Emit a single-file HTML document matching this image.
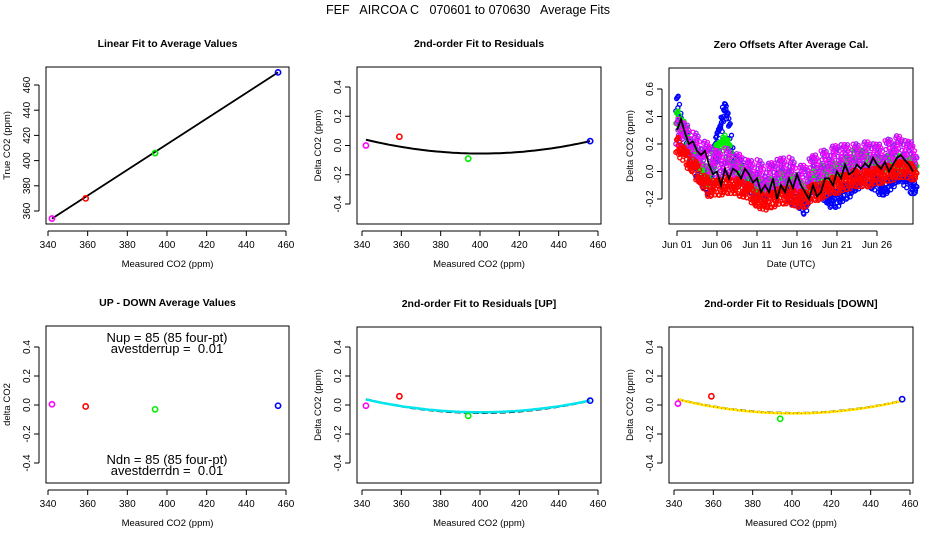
<!DOCTYPE html>
<html><head><meta charset="utf-8"><style>
html,body{margin:0;padding:0;background:#fff;}
svg{display:block;font-family:"Liberation Sans",sans-serif;}
text{white-space:pre;}
</style></head><body>
<svg id="chart" width="936" height="540" viewBox="0 0 936 540" xmlns="http://www.w3.org/2000/svg">
<text x="468" y="14" font-size="12.5" text-anchor="middle" xml:space="preserve">FEF   AIRCOA C   070601 to 070630   Average Fits</text>
</svg>
<script>
// ---- data ----
const calX = [342, 359, 394, 456];
const calTrue = [354, 370, 406, 470];
const calColors = ['#ff00ff', '#ff0000', '#00ee00', '#0000ff'];
const linFit = [1.0175, 6.0]; // slope, intercept
const resid = [0.0, 0.06, -0.09, 0.03];
const residUp = [-0.005, 0.06, -0.075, 0.03];
const residDn = [0.01, 0.06, -0.095, 0.04];
const upDown = [0.005, -0.01, -0.03, -0.005];
const quadFit = [2.768e-5, -3.2e-5, -0.055];
const quadFitUp = [2.6e-5, -1e-5, -0.05];
const quadFitDn = [2.8e-5, -3e-5, -0.058];
const xTicks = [340, 360, 380, 400, 420, 440, 460];
const resTicks = [-0.4, -0.2, 0.0, 0.2, 0.4];
const resTickLabels = ['-0.4', '-0.2', '0.0', '0.2', '0.4'];
const trueTicks = [360, 380, 400, 420, 440, 460];
const zeroTicks = [-0.2, 0.0, 0.2, 0.4, 0.6];
const zeroTickLabels = ['-0.2', '0.0', '0.2', '0.4', '0.6'];
const dateTicks = [1, 6, 11, 16, 21, 26];
const dateTickLabels = ['Jun 01', 'Jun 06', 'Jun 11', 'Jun 16', 'Jun 21', 'Jun 26'];
const meanLine = [0.3,0.38,0.28,0.2,0.22,0.15,0.12,0.15,0.05,-0.02,0.0,-0.1,0.02,-0.05,0.02,0.0,-0.05,0.02,-0.02,-0.08,-0.05,-0.15,-0.1,-0.15,-0.05,-0.2,-0.1,-0.15,-0.05,-0.12,-0.02,-0.1,-0.15,-0.2,-0.1,-0.18,-0.15,-0.05,-0.05,-0.1,0.0,-0.05,0.05,-0.02,0.0,0.05,0.02,0.06,0.03,0.1,0.05,0.02,0.07,0.0,0.05,0.1,0.12,0.08,0.05,0.0];
const purpleDaily = [0.3,0.25,0.2,0.15,0.1,0.05,0.08,0.05,0.02,-0.02,0.0,-0.05,-0.02,0.0,0.02,-0.05,-0.05,0.02,0.05,0.08,0.1,0.1,0.1,0.12,0.12,0.1,0.12,0.18,0.15,0.12];
const redDaily = [0.2,0.1,0.05,-0.05,-0.12,-0.12,-0.1,-0.1,-0.12,-0.15,-0.2,-0.22,-0.2,-0.18,-0.17,-0.2,-0.2,-0.15,-0.15,-0.1,-0.1,-0.08,-0.05,-0.05,-0.05,-0.03,-0.02,0.0,0.02,0.0];
const greenDaily = [0.4,0.3,0.15,0.05,-0.05,0.15,0.25,0.05,0.0,-0.05,-0.1,-0.1,-0.1,-0.05,-0.05,-0.1,-0.15,-0.05,0.0,0.0,0.02,0.05,0.1,0.15,0.05,0.05,0.05,0.1,0.05,0.05];
const blueDaily = [0.5,0.25,0.1,-0.05,-0.1,0.2,0.5,0.1,0.0,-0.1,-0.1,-0.15,-0.1,-0.05,-0.15,-0.2,-0.25,-0.1,-0.1,-0.2,-0.2,-0.15,-0.1,-0.05,-0.05,-0.1,-0.12,-0.05,0.0,-0.1];
const seriesSpread = [0.1, 0.06, 0.05, 0.06]; // purple, red, green, blue

// ---- helpers ----
const NS = 'http://www.w3.org/2000/svg';
const svg = document.getElementById('chart');
function mk(tag, attrs, parent) {
  const e = document.createElementNS(NS, tag);
  for (const k in attrs) e.setAttribute(k, attrs[k]);
  (parent || svg).appendChild(e);
  return e;
}
function lin(d0, d1, p0, p1) { return v => p0 + (v - d0) * (p1 - p0) / (d1 - d0); }

function panel(name, box, xs, ys, opts) {
  const g = mk('g', {});
  
  
  const t = mk('text', {x: (box[0] + box[2]) / 2, y: box[1] - 20, 'font-size': 10.5, 'font-weight': 'bold', 'text-anchor': 'middle'}, g);
  t.textContent = opts.title;
  
  
  const r = mk('rect', {x: box[0], y: box[1], width: box[2] - box[0], height: box[3] - box[1], fill: 'none', stroke: '#000', 'stroke-width': 1}, g);
  
  
  const xa = mk('g', {}, g);
  
  
  const ax = box[3] + 7;
  mk('line', {x1: xs(opts.xt[0]), x2: xs(opts.xt[opts.xt.length - 1]), y1: ax, y2: ax, stroke: '#000'}, xa);
  opts.xt.forEach((v, i) => {
    const x = xs(v);
    mk('line', {x1: x, x2: x, y1: ax, y2: ax + 5, stroke: '#000'}, xa);
    const tl = mk('text', {x: x, y: ax + 17, 'font-size': 10, 'text-anchor': 'middle'}, xa);
    tl.textContent = opts.xl[i];
  });
  const xt = mk('text', {x: (box[0] + box[2]) / 2, y: box[3] + 43, 'font-size': 9.5, 'text-anchor': 'middle'}, g);
  xt.textContent = opts.xlab;
  
  
  const ya = mk('g', {}, g);
  
  
  const ay = box[0] - 7;
  mk('line', {x1: ay, x2: ay, y1: ys(opts.yt[0]), y2: ys(opts.yt[opts.yt.length - 1]), stroke: '#000'}, ya);
  opts.yt.forEach((v, i) => {
    const y = ys(v);
    mk('line', {x1: ay - 5, x2: ay, y1: y, y2: y, stroke: '#000'}, ya);
    const tl = mk('text', {x: ay - 9, y: y, 'font-size': 10, 'text-anchor': 'middle', transform: `rotate(-90 ${ay - 9} ${y})`}, ya);
    tl.textContent = opts.yl[i];
  });
  const yx = box[0] - 36, yy = (box[1] + box[3]) / 2;
  const ytl = mk('text', {x: yx, y: yy, 'font-size': 9.5, 'text-anchor': 'middle', transform: `rotate(-90 ${yx} ${yy})`}, g);
  ytl.textContent = opts.ylab;
  
  
  return g;
}
function pts(g, xs, ys, X, Y, cols) {
  X.forEach((x, i) => {
    const c = mk('circle', {cx: xs(x), cy: ys(Y[i]), r: 2.6, fill: 'none', stroke: cols[i], 'stroke-width': 1.6}, g);
    
    
  });
}
function quad(g, xs, ys, co, attrs) {
  let d = '';
  for (let x = 342; x <= 456; x += 2) {
    const u = x - 400;
    const y = co[0] * u * u + co[1] * u + co[2];
    d += (d ? 'L' : 'M') + xs(x).toFixed(1) + ',' + ys(y).toFixed(1);
  }
  const p = mk('path', Object.assign({d: d, fill: 'none'}, attrs), g);
  
  
}
const xl = xTicks.map(String);

// Panel 1
{
  const box = [46, 67, 289, 224];
  const xs = lin(340, 460, 48, 286), ys = lin(360, 460, 211, 85);
  const g = panel('linear-fit-panel', box, xs, ys, {title: 'Linear Fit to Average Values', xt: xTicks, xl: xl, yt: trueTicks, yl: trueTicks.map(String), xlab: 'Measured CO2 (ppm)', ylab: 'True CO2 (ppm)'});
  const l = mk('line', {x1: xs(342), y1: ys(linFit[0] * 342 + linFit[1]), x2: xs(456), y2: ys(linFit[0] * 456 + linFit[1]), stroke: '#000', 'stroke-width': 1.8}, g);
  
  
  pts(g, xs, ys, calX, calTrue, calColors);
}
// Panel 2
{
  const box = [357, 67, 601, 224];
  const xs = lin(340, 460, 362, 598), ys = lin(-0.4, 0.4, 204, 87);
  const g = panel('residual-fit-panel', box, xs, ys, {title: '2nd-order Fit to Residuals', xt: xTicks, xl: xl, yt: resTicks, yl: resTickLabels, xlab: 'Measured CO2 (ppm)', ylab: 'Delta CO2 (ppm)'});
  quad(g, xs, ys, quadFit, {stroke: '#000', 'stroke-width': 2});
  pts(g, xs, ys, calX, resid, calColors);
}
// Panel 3
{
  const box = [669, 68, 913, 224];
  const xs = lin(1, 26, 677, 877), ys = lin(-0.2, 0.6, 199, 89);
  const g = panel('zero-offsets-panel', box, xs, ys, {title: 'Zero Offsets After Average Cal.', xt: dateTicks, xl: dateTickLabels, yt: zeroTicks, yl: zeroTickLabels, xlab: 'Date (UTC)', ylab: 'Delta CO2 (ppm)'});
  const sets = [[blueDaily, '#0000ff', 3], [greenDaily, '#00ee00', 2], [purpleDaily, '#a020f0', 0], [redDaily, '#ff0000', 1]];
  const offs = [-1, 0.3, -0.6, 0.8, -0.2, 0.5, -0.85, 0.1, 0.95, -0.4, 0.65, -0.1];
  sets.forEach(s => {
    const sg = mk('g', {}, g);
    
    
    const sp = seriesSpread[s[2]];
    s[0].forEach((v, i) => {
      const nv = i + 1 < s[0].length ? s[0][i + 1] : v;
      for (let h = 0; h < 6; h++) {
        const f = h / 6;
        const base = v + (nv - v) * f;
        for (let j = 0; j < 4; j++) {
          const k = offs[(i * 3 + h * 2 + j * 5) % offs.length];
          const col = (s[2] === 0 && (h + j) % 2) ? '#ff00ff' : s[1];
          mk('circle', {cx: (xs(1 + i + f) + (j - 1.5) * 0.8).toFixed(1), cy: ys(base + sp * k).toFixed(1), r: 2, fill: 'none', stroke: col, 'stroke-width': 1.3}, sg);
        }
      }
    });
  });
  let d = '';
  meanLine.forEach((v, i) => { d += (i ? 'L' : 'M') + xs(1 + i * 0.5).toFixed(1) + ',' + ys(v).toFixed(1); });
  const p = mk('path', {d: d, fill: 'none', stroke: '#000', 'stroke-width': 1.8}, g);
  
  
}
// Panel 4
{
  const box = [46, 326, 289, 483];
  const xs = lin(340, 460, 48, 286), ys = lin(-0.4, 0.4, 463, 347);
  const g = panel('up-down-panel', box, xs, ys, {title: 'UP - DOWN Average Values', xt: xTicks, xl: xl, yt: resTicks, yl: resTickLabels, xlab: 'Measured CO2 (ppm)', ylab: 'delta CO2'});
  pts(g, xs, ys, calX, upDown, calColors);
  [['Nup = 85 (85 four-pt)', 342], ['avestderrup =  0.01', 353], ['Ndn = 85 (85 four-pt)', 464], ['avestderrdn =  0.01', 475]].forEach(a => {
    const t = mk('text', {x: 167, y: a[1], 'font-size': 13, 'text-anchor': 'middle'}, g);
    t.textContent = a[0];
    
    
  });
}
// Panel 5
{
  const box = [357, 327, 601, 483];
  const xs = lin(340, 460, 362, 598), ys = lin(-0.4, 0.4, 463, 347);
  const g = panel('residual-fit-up-panel', box, xs, ys, {title: '2nd-order Fit to Residuals [UP]', xt: xTicks, xl: xl, yt: resTicks, yl: resTickLabels, xlab: 'Measured CO2 (ppm)', ylab: 'Delta CO2 (ppm)'});
  quad(g, xs, ys, quadFit, {stroke: '#000', 'stroke-width': 2, 'stroke-dasharray': '6 3'});
  quad(g, xs, ys, quadFitUp, {stroke: '#00e5ee', 'stroke-width': 2.5});
  pts(g, xs, ys, calX, residUp, calColors);
}
// Panel 6
{
  const box = [669, 327, 913, 483];
  const xs = lin(340, 460, 674, 910), ys = lin(-0.4, 0.4, 463, 347);
  const g = panel('residual-fit-down-panel', box, xs, ys, {title: '2nd-order Fit to Residuals [DOWN]', xt: xTicks, xl: xl, yt: resTicks, yl: resTickLabels, xlab: 'Measured CO2 (ppm)', ylab: 'Delta CO2 (ppm)'});
  quad(g, xs, ys, quadFit, {stroke: '#000', 'stroke-width': 2, 'stroke-dasharray': '6 3'});
  quad(g, xs, ys, quadFitDn, {stroke: '#ffee00', 'stroke-width': 2.5});
  quad(g, xs, ys, quadFitDn, {stroke: '#ff3000', 'stroke-width': 1, 'stroke-dasharray': '1 3'});
  pts(g, xs, ys, calX, residDn, calColors);
}
</script>
</body></html>
